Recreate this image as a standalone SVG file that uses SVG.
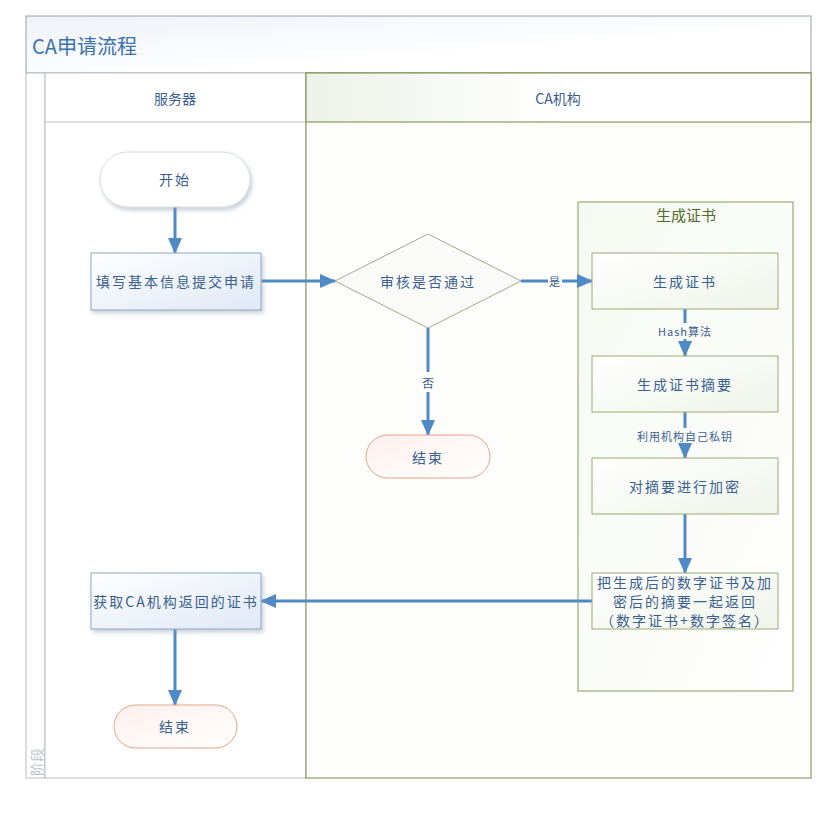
<svg xmlns="http://www.w3.org/2000/svg" width="832" height="817" viewBox="0 0 832 817">
<defs>
<linearGradient id="gTitle" x1="0" y1="0" x2="1" y2="1"><stop offset="0" stop-color="#eef2f7"/><stop offset="0.6" stop-color="#ffffff"/></linearGradient>
<linearGradient id="gCAhead" x1="0" y1="0" x2="1" y2="0"><stop offset="0" stop-color="#edf2e8"/><stop offset="0.5" stop-color="#ffffff"/></linearGradient>
<linearGradient id="gBlue" x1="0" y1="0" x2="1" y2="1"><stop offset="0" stop-color="#ffffff"/><stop offset="1" stop-color="#dfe8f5"/></linearGradient>
<linearGradient id="gGreen" x1="0" y1="0" x2="1" y2="1"><stop offset="0" stop-color="#f6f9f2"/><stop offset="1" stop-color="#ffffff"/></linearGradient>
<linearGradient id="gGreenBox" x1="0" y1="0" x2="1" y2="1"><stop offset="0" stop-color="#ffffff"/><stop offset="1" stop-color="#f0f4ea"/></linearGradient>
<linearGradient id="gEnd" x1="0" y1="0" x2="1" y2="1"><stop offset="0" stop-color="#fdf0ee"/><stop offset="1" stop-color="#ffffff"/></linearGradient>
<filter id="sh" x="-10%" y="-10%" width="130%" height="140%"><feDropShadow dx="2" dy="3" stdDeviation="2" flood-color="#8899aa" flood-opacity="0.45"/></filter>
<marker id="ah" markerUnits="userSpaceOnUse" markerWidth="16" markerHeight="14" refX="15" refY="7" orient="auto"><path d="M0,0 L16,7 L0,14 Z" fill="#4f89c6"/></marker>
<style>
.t{font-family:"Noto Sans CJK SC","Noto Sans",sans-serif;fill:#3a5f8f;text-anchor:middle;dominant-baseline:central}
.n{font-size:14px;letter-spacing:2px}
.lab{font-size:11px;letter-spacing:1px}
.conn{stroke:#4f89c6;stroke-width:3;fill:none;marker-end:url(#ah)}
.plain{stroke:#4f89c6;stroke-width:3;fill:none}
.bbox{fill:url(#gBlue);stroke:#8ea7c8;stroke-width:1;filter:url(#sh)}
.gbox{fill:url(#gGreenBox);stroke:#9aab73;stroke-width:1}
</style>
</defs>
<g id="frame">
<rect x="26" y="16" width="785" height="57" fill="url(#gTitle)" stroke="#9aa0a8" stroke-width="1"/>
<text x="32" y="45" font-family="Noto Sans CJK SC,sans-serif" font-size="20" fill="#3a72b0" dominant-baseline="central">CA申请流程</text>
<rect x="26" y="73" width="19" height="705" fill="#ffffff" stroke="#b8bcc2" stroke-width="1"/>
<text transform="translate(36,762) rotate(-90)" font-family="Noto Sans CJK SC,sans-serif" font-size="14" fill="#c0c4ca" text-anchor="middle" dominant-baseline="central">阶段</text>
<rect x="45" y="73" width="261" height="705" fill="#ffffff" stroke="#b8bcc2" stroke-width="1"/>
<line x1="45" y1="122" x2="306" y2="122" stroke="#b8bcc2"/>
<text x="175" y="98" class="t" font-size="14">服务器</text>
<rect x="306" y="73" width="505" height="705" fill="#fdfefc" stroke="#8a9a63" stroke-width="1.2"/>
<rect x="306" y="73" width="505" height="49" fill="url(#gCAhead)" stroke="#8a9a63" stroke-width="1.2"/>
<text x="558" y="98" class="t" font-size="14">CA机构</text>
</g>
<g id="gen-container">
<rect x="578" y="202" width="215" height="489" fill="url(#gGreen)" stroke="#9aab73" stroke-width="1.2"/>
<text x="686" y="214" font-family="Noto Sans CJK SC,sans-serif" font-size="15" fill="#4d6b2a" text-anchor="middle" dominant-baseline="central">生成证书</text>
</g>
<g id="connectors">
<line x1="175" y1="207" x2="175" y2="253" class="conn"/>
<line x1="261" y1="281" x2="335" y2="281" class="conn"/>
<line x1="521" y1="281" x2="548" y2="281" class="plain"/>
<line x1="562" y1="281" x2="592" y2="281" class="conn"/>
<text x="555" y="281" class="t lab">是</text>
<line x1="428" y1="328" x2="428" y2="372" class="plain"/>
<line x1="428" y1="392" x2="428" y2="435" class="conn"/>
<text x="428" y="382" class="t" font-size="12">否</text>
<line x1="685" y1="309" x2="685" y2="323" class="plain"/>
<line x1="685" y1="339" x2="685" y2="356" class="conn"/>
<text x="685" y="331" class="t lab">Hash算法</text>
<line x1="685" y1="412" x2="685" y2="428" class="plain"/>
<line x1="685" y1="444" x2="685" y2="458" class="conn"/>
<text x="685" y="436" class="t lab">利用机构自己私钥</text>
<line x1="685" y1="514" x2="685" y2="573" class="conn"/>
<line x1="592" y1="601" x2="261" y2="601" class="conn"/>
<line x1="175" y1="629" x2="175" y2="705" class="conn"/>
</g>
<g id="start">
<rect x="100" y="152" width="150" height="55" rx="27.5" fill="#ffffff" stroke="#d8dde4" filter="url(#sh)"/>
<text x="175" y="179" class="t n">开始</text>
</g>
<g id="fill-apply">
<rect x="91" y="253" width="170" height="57" class="bbox"/>
<text x="176" y="281" class="t n">填写基本信息提交申请</text>
</g>
<g id="review">
<polygon points="335,281 428,234 521,281 428,328" fill="#fafbf8" stroke="#a8a58a" stroke-width="1"/>
<text x="428" y="281" class="t n">审核是否通过</text>
</g>
<g id="end-ca">
<rect x="366" y="435" width="124" height="43" rx="21.5" fill="url(#gEnd)" stroke="#e3a285" stroke-width="1"/>
<text x="428" y="457" class="t n">结束</text>
</g>
<g id="gen-cert">
<rect x="592" y="253" width="186" height="56" class="gbox"/>
<text x="685" y="281" class="t n">生成证书</text>
</g>
<g id="gen-digest">
<rect x="592" y="356" width="186" height="56" class="gbox"/>
<text x="685" y="384" class="t n">生成证书摘要</text>
</g>
<g id="encrypt">
<rect x="592" y="458" width="186" height="56" class="gbox"/>
<text x="685" y="486" class="t n">对摘要进行加密</text>
</g>
<g id="return">
<rect x="592" y="573" width="186" height="56" class="gbox"/>
<text x="685" y="582" class="t n">把生成后的数字证书及加</text>
<text x="685" y="601" class="t n">密后的摘要一起返回</text>
<text x="685" y="620" class="t n">（数字证书+数字签名）</text>
</g>
<g id="get-cert">
<rect x="91" y="573" width="170" height="56" class="bbox"/>
<text x="176" y="601" class="t n">获取CA机构返回的证书</text>
</g>
<g id="end-server">
<rect x="114" y="705" width="123" height="43" rx="21.5" fill="url(#gEnd)" stroke="#e3a285" stroke-width="1"/>
<text x="175" y="726" class="t n">结束</text>
</g>
</svg>
